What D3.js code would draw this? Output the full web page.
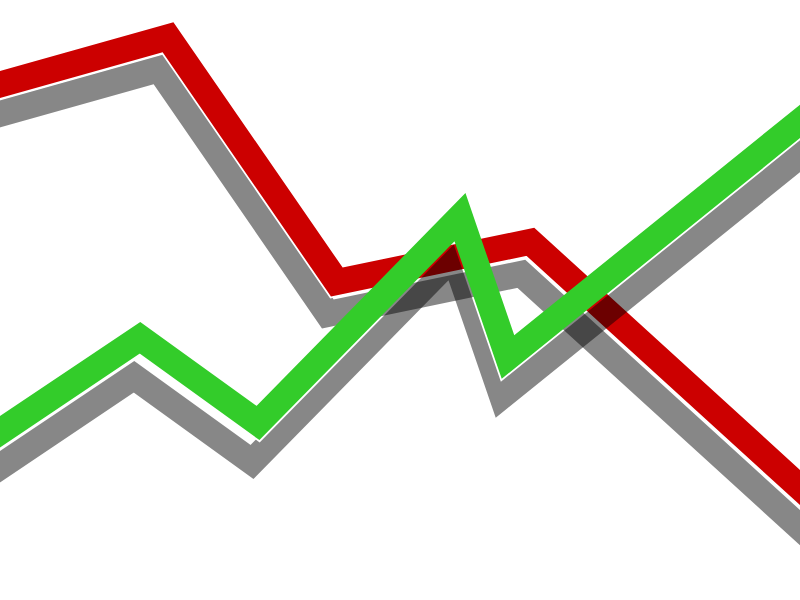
<!DOCTYPE html>
<html>
<head>
<meta charset="utf-8">
<script src="https://cdn.jsdelivr.net/npm/d3@7"></script>
<style>
html,body{margin:0;padding:0;background:#fff;}
svg{display:block;}
</style>
</head>
<body>
<script>
// Data (x in 0..100 horizontal units, y in 0..100 value units)
const redX   = [-2.5, 21, 42.1, 66.3, 103.75];
const redY   = [85, 93.8, 53, 59.7, 14.2];
const greenX = [-2.5, 17.5, 32.25, 57.5, 63.5, 103.75];
const greenY = [25.8, 43.7, 29.5, 63.8, 40.5, 83.8];
const seriesNames = ["red", "green"];
const seriesColors = ["#cc0000", "#33cc2a"];

const W = 800, H = 600;
const x = d3.scaleLinear().domain([0, 100]).range([0, W]);
const y = d3.scaleLinear().domain([0, 100]).range([H, 0]);

const series = [
  {name: seriesNames[0], xs: redX, ys: redY, color: seriesColors[0], dx: -9, dy: 32},
  {name: seriesNames[1], xs: greenX, ys: greenY, color: seriesColors[1], dx: -6, dy: 39}
];

const lineW = 26;
const line = d3.line().x(d => x(d[0])).y(d => y(d[1]));

const svg = d3.select("body").append("svg").attr("width", W).attr("height", H);
const defs = svg.append("defs");
defs.append("filter").attr("id", "soft")
  .append("feGaussianBlur").attr("stdDeviation", 0.7);

series.forEach((s, i) => {
  const pts = s.xs.map((v, j) => [v, s.ys[j]]);
  const mask = defs.append("mask").attr("id", "m" + i)
    .attr("maskUnits", "userSpaceOnUse")
    .attr("x", -100).attr("y", -100).attr("width", W + 200).attr("height", H + 200);
  mask.append("rect").attr("x", -100).attr("y", -100).attr("width", W + 200).attr("height", H + 200).attr("fill", "#fff");
  mask.append("path").attr("d", line(pts)).attr("fill", "none").attr("stroke", "#000")
    .attr("stroke-width", lineW + 3.5).attr("stroke-linejoin", "miter").attr("stroke-miterlimit", 10);

  const g = svg.append("g").attr("class", "series-" + s.name);
  g.append("g").attr("mask", "url(#m" + i + ")")
    .append("path")
    .attr("d", line(pts))
    .attr("transform", `translate(${s.dx},${s.dy})`)
    .attr("fill", "none")
    .attr("stroke", "#000")
    .attr("stroke-opacity", 0.47)
    .attr("stroke-width", lineW)
    .attr("stroke-linejoin", "miter")
    .attr("stroke-miterlimit", 10)
    .attr("filter", "url(#soft)");
  g.append("path")
    .attr("d", line(pts))
    .attr("fill", "none")
    .attr("stroke", s.color)
    .attr("stroke-width", lineW)
    .attr("stroke-linejoin", "miter")
    .attr("stroke-miterlimit", 10);
});
</script>
</body>
</html>
